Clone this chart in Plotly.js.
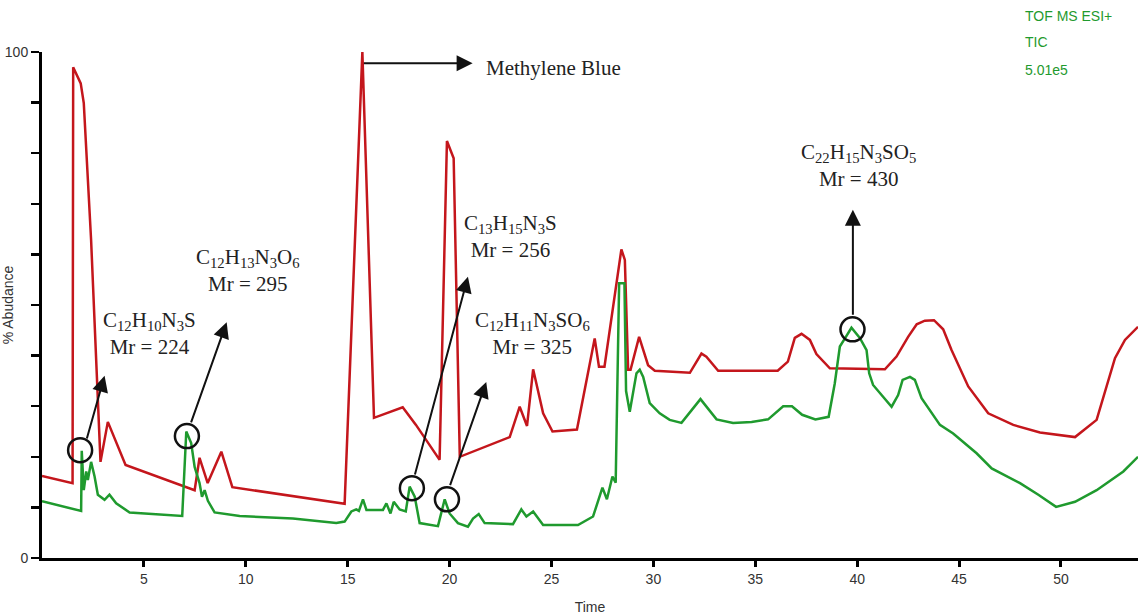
<!DOCTYPE html>
<html>
<head>
<meta charset="utf-8">
<script src="https://cdn.plot.ly/plotly-3.0.1.min.js"></script>
<style>html,body{margin:0;padding:0;background:#fff;}#chart{width:1138px;height:615px;}</style>
</head>
<body>
<div id="chart"></div>
<script>
// Red trace (time, % abundance)
const redTime = [0,1.5,1.53,1.9,2.05,2.41,2.87,3.23,4.1,7.49,7.73,8.13,8.8,9.34,14.85,15.72,16.29,17.7,18.35,19.51,19.87,20.2,20.5,22.95,23.44,23.8,24.1,24.59,25.05,26.25,27.12,27.33,27.6,28.43,28.6,28.76,28.88,29.3,29.74,30.07,31.79,32.36,32.6,33.18,36.1,36.6,36.94,37.27,37.68,38.0,38.66,41.36,41.93,42.5,42.92,43.32,43.77,44.22,44.63,45.45,46.43,47.66,48.97,50.69,51.75,52.65,53.14,53.78];
const redAbund = [16.2,14.8,97,93.8,89.9,62.8,19,26.9,18.4,13.4,19.8,14.8,21,14,10.7,100,27.7,29.8,26.3,19.4,82.4,79,20,23.9,29.9,26.1,37.3,28.6,25,25.4,43.4,37.8,37.8,61,58.9,37.2,37.2,43.7,38.1,37,36.6,40.4,39.8,37,37,38.8,43.5,44.3,43.1,40.3,37.5,37.3,39.8,43.7,46.2,46.9,47,45.2,41.1,33.9,28.6,26.3,24.8,23.9,27.3,39.5,43.1,45.7];

// Green trace (time, % abundance)
const greenTime = [0,1.92,1.95,2.05,2.17,2.25,2.41,2.58,2.74,3.07,3.31,3.64,4.3,6.88,7.08,7.32,7.49,7.73,7.85,7.98,8.14,8.47,9.7,12.31,14.44,14.85,15.18,15.42,15.55,15.75,15.92,16.73,16.9,17.1,17.26,17.55,17.85,18.04,18.29,18.53,19.43,19.76,20.0,20.41,20.9,21.15,21.43,21.72,23.11,23.52,23.77,24.1,24.59,26.3,27.04,27.5,27.72,27.99,28.15,28.32,28.58,28.66,28.84,29.17,29.33,29.5,29.82,30.31,30.8,31.38,32.31,33.1,33.91,34.82,35.63,36.37,36.8,37.3,37.95,38.6,38.9,39.15,39.4,39.72,40.13,40.46,40.59,40.78,41.69,42.01,42.23,42.59,42.83,43.16,44.06,44.71,45.86,46.6,47.99,48.89,49.76,50.69,51.75,53.06,53.78];
const greenAbund = [11.2,9.3,21.2,13.4,17.1,15.4,19,16.1,12.5,11.5,12.5,10.8,9,8.3,25,22.7,18,14.8,12.1,13.4,11.3,9,8.3,7.8,6.9,7.2,9.2,9.6,9.3,11.6,9.5,9.5,10.8,8.8,11.1,9.6,9.2,14.1,12.1,6.9,6.3,11.6,8.8,6.9,6.2,7.8,8.7,6.9,6.7,9.6,8.2,9.2,6.5,6.5,8.2,13.9,11.6,16.1,14.9,54.3,54.3,33,28.9,36.5,37.2,35.8,30.6,28.6,27.3,26.7,31.4,27.4,26.7,26.9,27.4,30,30,28.3,27.4,27.9,34.5,41.8,43.4,45.5,43.5,41.1,36.5,34.2,29.9,32.2,35.2,35.8,35.2,31.6,26.3,24.6,20.7,17.7,14.8,12.5,10.1,11.1,13.4,17.1,20];

// Axis ticks
const xTicks = [5,10,15,20,25,30,35,40,45,50];
const yTicks = [0,10,20,30,40,50,60,70,80,90,100];
const yTickText = ['0','','','','','','','','','','100'];

// Compound labels and marked peaks
const compoundText = [
  'C<sub>12</sub>H<sub>10</sub>N<sub>3</sub>S<br>Mr = 224',
  'C<sub>12</sub>H<sub>13</sub>N<sub>3</sub>O<sub>6</sub><br>Mr = 295',
  'C<sub>13</sub>H<sub>15</sub>N<sub>3</sub>S<br>Mr = 256',
  'C<sub>12</sub>H<sub>11</sub>N<sub>3</sub>SO<sub>6</sub><br>Mr = 325',
  'C<sub>22</sub>H<sub>15</sub>N<sub>3</sub>SO<sub>5</sub><br>Mr = 430'
];
const compoundTextX = [5.28, 10.09, 23.0, 24.08, 40.08];
const compoundTextY = [44.3, 56.9, 63.6, 44.4, 77.5];
const peakX = [1.87, 7.11, 18.15, 19.87, 39.77];
const peakY = [21.3, 24.1, 13.8, 11.6, 45.2];
const arrowTailX = [2.18, 7.29, 18.28, 20.0, 39.79];
const arrowTailY = [23.3, 26.5, 16.2, 14.1, 47.8];
const arrowTipX = [3.07, 9.06, 20.9, 21.8, 39.79];
const arrowTipY = [36.0, 46.6, 55.6, 34.8, 68.8];

const mbLabel = 'Methylene Blue';
const mbTail = [15.72, 97.8];
const mbTip = [21.13, 97.8];
const mbTextPos = [21.67, 96.8];

const infoLines = ['TOF MS ESI+', 'TIC', '5.01e5'];

const RED = '#c4161c';
const GREEN = '#1f9a2e';
const serif = 'Liberation Serif, Times New Roman, serif';
const sans = 'Liberation Sans, Arial, sans-serif';

const traces = [
  {x: redTime, y: redAbund, type: 'scatter', mode: 'lines', line: {color: RED, width: 2.5}, hoverinfo: 'skip', showlegend: false},
  {x: greenTime, y: greenAbund, type: 'scatter', mode: 'lines', line: {color: GREEN, width: 2.5}, hoverinfo: 'skip', showlegend: false}
];

const annotations = [];
const shapes = [];
for (let i = 0; i < compoundText.length; i++) {
  annotations.push({x: compoundTextX[i], y: compoundTextY[i], xref: 'x', yref: 'y', text: compoundText[i],
    showarrow: false, font: {family: serif, size: 21, color: '#222'}, align: 'center'});
  annotations.push({x: arrowTipX[i], y: arrowTipY[i], ax: arrowTailX[i], ay: arrowTailY[i],
    xref: 'x', yref: 'y', axref: 'x', ayref: 'y', text: '', showarrow: true,
    arrowhead: 2, arrowsize: 1.6, arrowwidth: 2, arrowcolor: '#111', standoff: 0, startstandoff: 0});
  shapes.push({type: 'circle', xref: 'x', yref: 'y', xsizemode: 'pixel', ysizemode: 'pixel',
    xanchor: peakX[i], yanchor: peakY[i], x0: -12, x1: 12, y0: -12, y1: 12,
    line: {color: '#111', width: 2.5}});
}
annotations.push({x: mbTip[0], y: mbTip[1], ax: mbTail[0], ay: mbTail[1], xref: 'x', yref: 'y', axref: 'x', ayref: 'y',
  text: '', showarrow: true, arrowhead: 2, arrowsize: 1.6, arrowwidth: 2, arrowcolor: '#111', standoff: 0});
annotations.push({x: mbTextPos[0], y: mbTextPos[1], xref: 'x', yref: 'y', text: mbLabel, showarrow: false,
  xanchor: 'left', font: {family: serif, size: 21, color: '#222'}});
const infoY = [1.071, 1.020, 0.964];
for (let i = 0; i < infoLines.length; i++) {
  annotations.push({x: 0.895, y: infoY[i], xref: 'paper', yref: 'paper', text: infoLines[i], showarrow: false,
    xanchor: 'left', yanchor: 'middle', font: {family: sans, size: 14, color: GREEN}});
}

const layout = {
  width: 1138, height: 615,
  margin: {l: 42, r: 0, t: 52, b: 57},
  paper_bgcolor: '#fff', plot_bgcolor: '#fff',
  showlegend: false,
  xaxis: {range: [0, 53.78], tickvals: xTicks, showgrid: false, zeroline: false,
    showline: true, linecolor: '#000', linewidth: 3, ticks: 'outside', ticklen: 6, tickwidth: 3, tickcolor: '#000',
    tickfont: {family: sans, size: 14, color: '#333'},
    title: {text: 'Time', font: {family: sans, size: 14, color: '#333'}, standoff: 18}, automargin: false},
  yaxis: {range: [0, 100], tickvals: yTicks, ticktext: yTickText, showgrid: false, zeroline: false,
    showline: true, linecolor: '#000', linewidth: 3, ticks: 'outside', ticklen: 8, tickwidth: 2.5, tickcolor: '#000',
    tickfont: {family: sans, size: 14, color: '#333'},
    title: {text: '% Abudance', font: {family: sans, size: 14, color: '#333'}, standoff: 0}, automargin: false},
  annotations: annotations,
  shapes: shapes
};

Plotly.newPlot('chart', traces, layout, {displayModeBar: false, staticPlot: true});
</script>
</body>
</html>
